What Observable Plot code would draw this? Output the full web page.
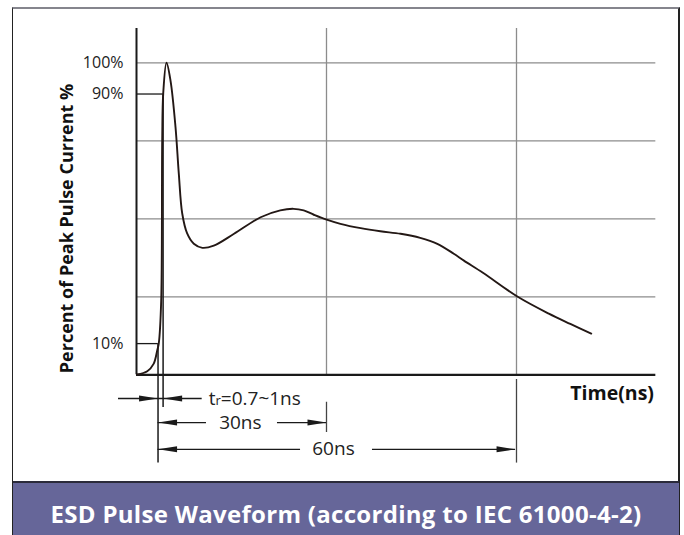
<!DOCTYPE html>
<html>
<head>
<meta charset="utf-8">
<script src="https://cdn.jsdelivr.net/npm/d3@7"></script>
<script src="https://cdn.jsdelivr.net/npm/@observablehq/plot@0.6"></script>
<style>
  body { margin: 0; background: #fff; }
  #wrap { position: relative; width: 684px; height: 535px; overflow: hidden; background:#fff; }
  #frame { position: absolute; left: 12px; top: 7px; width: 665px; height: 540px;
           border-top: 2px solid #85858d; border-left: 1px solid #222; border-right: 2px solid #222; }
  #chart { position: absolute; left: 0; top: 0; }
  #banner { position: absolute; left: 13px; top: 481px; width: 666px; height: 60px;
            background: #666699; border-top: 2px solid #2a2a3a; color: #fff;
            font: bold 24px "Open Sans", sans-serif; letter-spacing: 0.3px; line-height: 62px; text-align: center; }
</style>
</head>
<body>
<div id="wrap">
  <div id="frame"></div>
  <div id="chart"></div>
  <div id="banner"></div>
</div>
<script>
// ---- data ----
const title = "ESD Pulse Waveform (according to IEC 61000-4-2)";
const yLabel = "Percent of Peak Pulse Current %";
const xLabel = "Time(ns)";
const yTicks = [10, 90, 100];
const hGrid = [25, 50, 75, 100];
const vGrid = [30, 60];
// pulse waveform: time (ns), percent of peak
const pulseT = [0.1, 1.7, 2.7, 3.27, 3.52, 3.9, 4.06, 4.22, 4.74, 5.37, 6.16, 6.68, 7.22, 8.0, 9.05, 10.4, 12.2, 15.4, 19.6, 22.7, 24.8, 26.4, 28.0, 29.9, 32.2, 35.4, 38.5, 41.7, 44.8, 47.5, 50.1, 51.7, 54.7, 60.2, 65.1, 68.5, 71.8];
const pulseP = [0.1, 1.15, 3.5, 7.8, 10.1, 23.8, 75.1, 90.2, 100, 94.3, 79.4, 64.5, 51.7, 45.3, 42.0, 40.7, 41.4, 45.2, 50.5, 52.7, 53.2, 52.7, 51.3, 49.8, 48.4, 47.0, 46.0, 45.2, 43.9, 42.0, 38.8, 36.6, 32.7, 25.0, 19.6, 16.3, 13.2];
// rise-time markers (10% and 90% crossings)
const t10 = 3.4, t90 = 4.2;
// dimension rows (y level in % units below the axis)
const rowTr = -7.6, row30 = -15.3, row60 = -23.9;
const dimLabels = ["tr=0.7~1ns", "30ns", "60ns"];

const pulse = pulseT.map((t, i) => ({t, p: pulseP[i]}));
const shortTicks = [{y: 90, x: t90}, {y: 10, x: t10}];
const markers = [{x: t10, y1: 10, y2: -28.3}, {x: t90, y1: 90, y2: -10.5}];
const extLines = [{x: 30, y1: -8.8, y2: -18.5}, {x: 60, y1: -1.5, y2: -28.3}];
const dimSegs = [
  {y: rowTr, x1: -2.84, x2: 10.37},
  {y: row30, x1: t10, x2: 11.05}, {y: row30, x1: 22.26, x2: 30},
  {y: row60, x1: t10, x2: 25.9}, {y: row60, x1: 37.26, x2: 59.85}
];
const tips = [
  {x: t10, y: rowTr, rot: 0}, {x: t90, y: rowTr, rot: 180},
  {x: t10, y: row30, rot: 180}, {x: 30, y: row30, rot: 0},
  {x: t10, y: row60, rot: 180}, {x: 59.85, y: row60, rot: 0}
];
const trText = [{x: 11.4, y: rowTr, s: dimLabels[0]}];
const spanText = [
  {x: 16.4, y: row30, s: dimLabels[1]},
  {x: 31.1, y: row60, s: dimLabels[2]}
];

const arrowSym = {
  draw(ctx) {
    ctx.moveTo(0, 0); ctx.lineTo(-19, -3); ctx.lineTo(-19, 3); ctx.closePath();
  }
};

const ink = "#1a1a1a";
const plot = Plot.plot({
  width: 684, height: 482,
  marginLeft: 136, marginRight: 28.67, marginTop: 28, marginBottom: 107.7,
  x: {domain: [0, 82], axis: null},
  y: {domain: [0, 111], axis: null},
  style: {fontFamily: "'Open Sans', sans-serif", background: "transparent", overflow: "visible", color: "#222"},
  marks: [
    Plot.ruleY(hGrid, {stroke: "#8c8c8c", strokeWidth: 1.3}),
    Plot.ruleX(vGrid, {y1: 0, y2: 111, stroke: "#8c8c8c", strokeWidth: 1.3}),
    Plot.ruleX(extLines, {x: "x", y1: "y1", y2: "y2", stroke: "#444", strokeWidth: 1.3}),
    Plot.ruleY(shortTicks, {y: "y", x1: 0, x2: "x", stroke: ink, strokeWidth: 1.3}),
    Plot.ruleX(markers, {x: "x", y1: "y1", y2: "y2", stroke: ink, strokeWidth: 1.5}),
    Plot.ruleX([0], {y1: 0, y2: 111, stroke: ink, strokeWidth: 2}),
    Plot.ruleY([0], {x1: 0, x2: 82, stroke: ink, strokeWidth: 2.2}),
    Plot.line(pulse, {x: "t", y: "p", curve: "catmull-rom", stroke: "#231815", strokeWidth: 1.9}),
    Plot.ruleY(dimSegs, {y: "y", x1: "x1", x2: "x2", stroke: ink, strokeWidth: 1.3}),
    Plot.dot(tips, {x: "x", y: "y", rotate: "rot", symbol: arrowSym, fill: ink, stroke: "none"}),
    Plot.text(trText, {x: "x", y: "y", text: "s", textAnchor: "start", fontSize: 19, fill: "#222"}),
    Plot.text(spanText, {x: "x", y: "y", text: "s", textAnchor: "middle", fontSize: 19, fill: "#222"}),
    Plot.text([xLabel], {x: 81.7, y: -6, text: d => d, textAnchor: "end", fontSize: 19.5, fontWeight: "bold", fill: "#111"}),
    Plot.text([yLabel], {x: -10.9, y: 46.9, text: d => d, rotate: -90, fontSize: 18, fontWeight: "bold", fill: "#111", letterSpacing: "0.4px"}),
    Plot.axisY({ticks: yTicks, tickFormat: d => d + "%", tickSize: 0, tickPadding: 13, fontSize: 16, label: null})
  ]
});
document.getElementById("chart").appendChild(plot);
document.getElementById("banner").textContent = title;

// subscript-like small "r" in tr label
d3.select(plot).selectAll("text").filter(function() { return this.textContent === dimLabels[0]; })
  .each(function() {
    const el = d3.select(this);
    el.text(null);
    el.append("tspan").text("t");
    el.append("tspan").attr("font-size", "13").text("r");
    el.append("tspan").text("=0.7~1ns");
  });
</script>
</body>
</html>
